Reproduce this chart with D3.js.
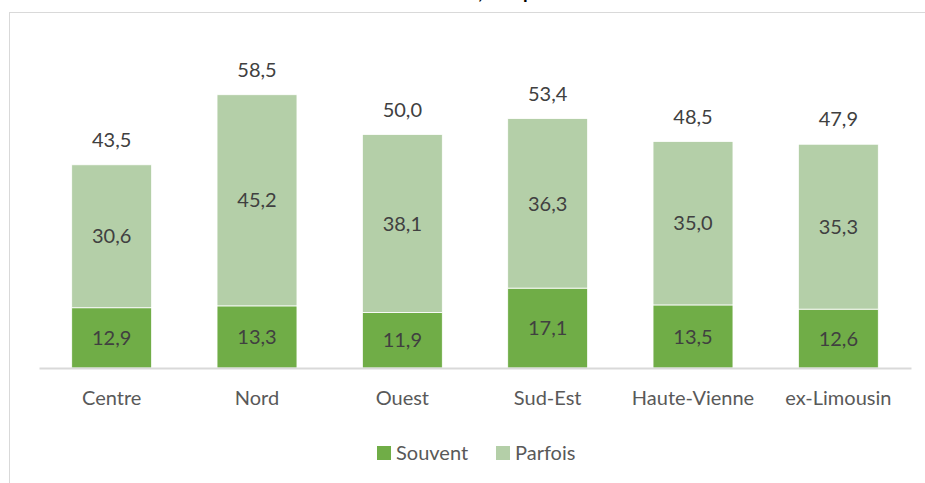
<!DOCTYPE html>
<html>
<head>
<meta charset="utf-8">
<script src="https://cdn.jsdelivr.net/npm/d3@7"></script>
<style>
  body { margin: 0; background: #fff; }
  svg { display: block; font-family: Lato, "Open Sans", sans-serif; }
</style>
</head>
<body>
<div id="chart"></div>
<script>
const categories = ["Centre", "Nord", "Ouest", "Sud-Est", "Haute-Vienne", "ex-Limousin"]
const souvent = [12.9, 13.3, 11.9, 17.1, 13.5, 12.6]
const parfois = [30.6, 45.2, 38.1, 36.3, 35.0, 35.3]
const totals = [43.5, 58.5, 50.0, 53.4, 48.5, 47.9]
const seriesNames = ["Souvent", "Parfois"]
const colors = ["#70ad47", "#b4cfa8"]

const width = 925, height = 483
const fmt = v => d3.format(".1f")(v).replace(".", ",")

const svg = d3.select("#chart").append("svg")
    .attr("width", width)
    .attr("height", height)

// titre coupé en haut de l'image (seul le bas des lettres dépasse)
svg.append("text")
    .attr("x", 470)
    .attr("y", -1)
    .attr("text-anchor", "middle")
    .style("font-size", "19px")
    .style("font-weight", "700")
    .style("fill", "#000")
    .text("Habitants en difficulté de contacts selon les territoires, comparaison avec la Haute-Vienne et l'ex-Limousin")

// cadre
svg.append("rect")
    .attr("x", 9.5).attr("y", 12.5)
    .attr("width", 930).attr("height", 480)
    .attr("fill", "none")
    .attr("stroke", "#d9d9d9")

const x = d3.scaleBand()
    .domain(categories)
    .range([39, 911])
    .paddingInner(0.45)
    .paddingOuter(0.225)

const y = d3.scaleLinear()
    .domain([0, 70])
    .range([368, 41])

const rows = categories.map((c, i) => ({ cat: c, Souvent: souvent[i], Parfois: parfois[i], total: totals[i] }))
const stacked = d3.stack().keys(seriesNames)(rows)

const layers = svg.append("g").selectAll("g")
    .data(stacked)
    .join("g")
    .attr("fill", (d, i) => colors[i])

layers.selectAll("rect")
    .data(d => d)
    .join("rect")
    .attr("x", d => x(d.data.cat))
    .attr("y", d => y(d[1]))
    .attr("width", x.bandwidth())
    .attr("height", d => y(d[0]) - y(d[1]))
    .attr("stroke", "#fff")
    .attr("stroke-width", 0.8)

layers.selectAll("text")
    .data(d => d.map(v => ({ v, key: d.key })))
    .join("text")
    .attr("x", d => x(d.v.data.cat) + x.bandwidth() / 2)
    .attr("y", d => (y(d.v[0]) + y(d.v[1])) / 2)
    .attr("dy", "0.36em")
    .attr("text-anchor", "middle")
    .style("font-size", "20px")
    .style("fill", "#404040")
    .text(d => fmt(d.v.data[d.key]))

// totaux
svg.append("g").selectAll("text")
    .data(rows)
    .join("text")
    .attr("x", d => x(d.cat) + x.bandwidth() / 2)
    .attr("y", d => y(d.total) - 25)
    .attr("dy", "0.36em")
    .attr("text-anchor", "middle")
    .style("font-size", "20px")
    .style("fill", "#404040")
    .text(d => fmt(d.total))

// axe x
const axis = svg.append("g")
    .attr("transform", `translate(0,${y(0)})`)
    .call(d3.axisBottom(x).tickSize(0).tickPadding(23))
axis.select(".domain").attr("stroke", "#d9d9d9").attr("stroke-width", 2)
axis.selectAll("text")
    .style("font-size", "20px")
    .style("font-family", "Lato, 'Open Sans', sans-serif")
    .style("fill", "#595959")

// légende
const legendPos = [377, 496]
const legend = svg.append("g").selectAll("g")
    .data(seriesNames)
    .join("g")
    .attr("transform", (d, i) => `translate(${legendPos[i]},446)`)
legend.append("rect")
    .attr("width", 14).attr("height", 14)
    .attr("fill", (d, i) => colors[i])
legend.append("text")
    .attr("x", 19).attr("y", 7)
    .attr("dy", "0.36em")
    .style("font-size", "20px")
    .style("fill", "#595959")
    .text(d => d)
</script>
</body>
</html>
